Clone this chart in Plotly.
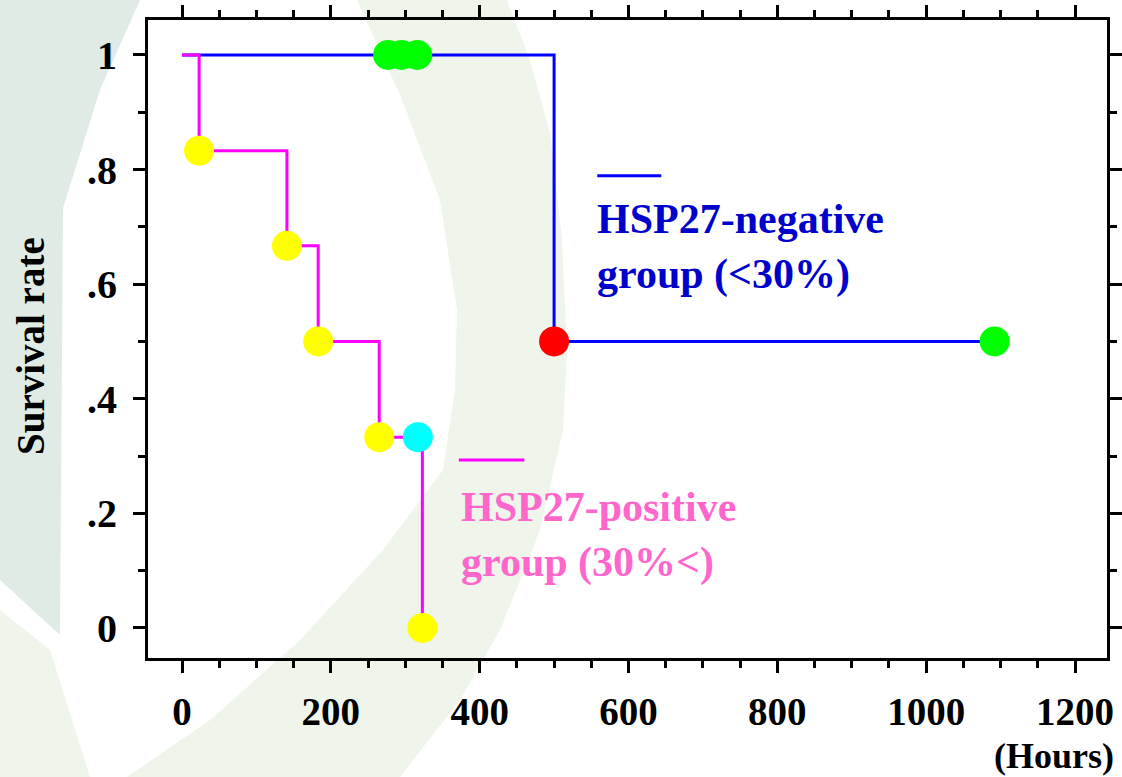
import plotly.graph_objects as go

# ---------------- data ----------------
neg_times = [0, 500, 1092]
neg_surv = [1.0, 0.5, 0.5]
neg_event_x = [500]
neg_event_y = [0.5]
neg_censor_x = [277, 295, 316, 1092]
neg_censor_y = [1.0, 1.0, 1.0, 0.5]

pos_times = [0, 23, 141, 183, 265, 323]
pos_surv = [1.0, 0.833, 0.667, 0.5, 0.333, 0.0]
pos_event_x = [23, 141, 183, 265, 323]
pos_event_y = [0.833, 0.667, 0.5, 0.333, 0.0]
pos_censor_x = [317]
pos_censor_y = [0.333]

x_ticks = [0, 200, 400, 600, 800, 1000, 1200]
y_ticks = [0, 0.2, 0.4, 0.6, 0.8, 1.0]
y_ticktext = ["0", ".2", ".4", ".6", ".8", "1"]

neg_label = "HSP27-negative<br>group (<30%)"
pos_label = "HSP27-positive<br>group (30%<)"

# ---------------- layout geometry ----------------
W, H = 1122, 777
L, R, T, B = 148, 15, 20, 119
PW, PH = W - L - R, H - T - B

def px2paper(pts):
    out = []
    for i, (px, py) in enumerate(pts):
        xx = (px - L) / PW
        yy = (H - B - py) / PH
        out.append(("M" if i == 0 else "L") + f"{xx:.4f},{yy:.4f}")
    return " ".join(out) + " Z"

crescent = [(357, 0), (400, 95), (440, 200), (457, 310), (455, 390), (443, 470),
            (383, 550), (300, 640), (210, 720), (127, 777),
            (400, 777), (460, 700), (500, 630), (540, 530), (563, 430),
            (567, 350), (562, 240), (550, 133), (530, 60), (507, 0)]
grey_band = [(0, 0), (140, 0), (100, 90), (63, 208), (60, 635), (0, 580)]
pale_corner = [(0, 610), (50, 650), (90, 777), (0, 777)]

serif = "Liberation Serif"

fig = go.Figure()

fig.add_trace(go.Scatter(x=neg_times, y=neg_surv, mode="lines", line_shape="hv",
                         line=dict(color="#0000FF", width=3), showlegend=False))
fig.add_trace(go.Scatter(x=pos_times, y=pos_surv, mode="lines", line_shape="hv",
                         line=dict(color="#FF00FF", width=3), showlegend=False))
fig.add_trace(go.Scatter(x=neg_censor_x, y=neg_censor_y, mode="markers",
                         marker=dict(color="#00FF00", size=30, line=dict(width=0)), showlegend=False))
fig.add_trace(go.Scatter(x=neg_event_x, y=neg_event_y, mode="markers",
                         marker=dict(color="#FF0000", size=30, line=dict(width=0)), showlegend=False))
fig.add_trace(go.Scatter(x=pos_event_x, y=pos_event_y, mode="markers",
                         marker=dict(color="#FFFF00", size=30, line=dict(width=0)), showlegend=False))
fig.add_trace(go.Scatter(x=pos_censor_x, y=pos_censor_y, mode="markers",
                         marker=dict(color="#00FFFF", size=30, line=dict(width=0)), showlegend=False))

# legend-like line keys
fig.add_trace(go.Scatter(x=[558, 644], y=[0.789, 0.789], mode="lines",
                         line=dict(color="#0000FF", width=3), showlegend=False))
fig.add_trace(go.Scatter(x=[372, 460], y=[0.293, 0.293], mode="lines",
                         line=dict(color="#FF00FF", width=3), showlegend=False))

shapes = [
    dict(type="path", xref="paper", yref="paper", path=px2paper(grey_band),
         fillcolor="#E1EBE5", line=dict(width=0), layer="below"),
    dict(type="path", xref="paper", yref="paper", path=px2paper(pale_corner),
         fillcolor="#EFF5EA", line=dict(width=0), layer="below"),
    dict(type="path", xref="paper", yref="paper", path=px2paper(crescent),
         fillcolor="#EFF5EA", line=dict(width=0), layer="below"),
]

annotations = [
    dict(x=555, y=0.665, xref="x", yref="y", text=neg_label, showarrow=False,
         xanchor="left", yanchor="middle", align="left",
         font=dict(family=serif, size=42, color="#0000CC", weight="bold")),
    dict(x=372, y=0.162, xref="x", yref="y", text=pos_label, showarrow=False,
         xanchor="left", yanchor="middle", align="left",
         font=dict(family=serif, size=42, color="#FF66CC", weight="bold")),
    dict(x=(1116 - L) / PW, y=(H - B - 756) / PH, xref="paper", yref="paper",
         text="(Hours)", showarrow=False, xanchor="right", yanchor="middle",
         font=dict(family=serif, size=36, color="black", weight="bold")),
    dict(x=(30 - L) / PW, y=(H - B - 346) / PH, xref="paper", yref="paper",
         text="Survival rate", showarrow=False, textangle=-90,
         xanchor="center", yanchor="middle",
         font=dict(family=serif, size=39, color="black", weight="bold")),
]

fig.update_layout(
    width=W, height=H,
    margin=dict(l=L, r=R, t=T, b=B, autoexpand=False),
    paper_bgcolor="white", plot_bgcolor="rgba(0,0,0,0)",
    shapes=shapes, annotations=annotations,
    showlegend=False,
)

fig.update_xaxes(
    range=[-45.7, 1243], tickvals=x_ticks, ticktext=[str(v) for v in x_ticks],
    showgrid=False, zeroline=False, showline=True, linecolor="black", linewidth=3,
    mirror="allticks", ticks="outside", ticklen=12, tickwidth=3, tickcolor="black",
    tickfont=dict(family=serif, size=39, color="black", weight="bold"),
    ticklabelstandoff=5,
    minor=dict(dtick=50, ticks="outside", ticklen=7, tickwidth=3, tickcolor="black", showgrid=False),
)
fig.update_yaxes(
    range=[-0.0524, 1.061], tickvals=y_ticks, ticktext=y_ticktext,
    showgrid=False, zeroline=False, showline=True, linecolor="black", linewidth=3,
    mirror="allticks", ticks="outside", ticklen=12, tickwidth=3, tickcolor="black",
    tickfont=dict(family=serif, size=40, color="black", weight="bold"),
    ticklabelstandoff=8,
    minor=dict(dtick=0.1, ticks="outside", ticklen=7, tickwidth=3, tickcolor="black", showgrid=False),
)

fig.write_html("out.html")
